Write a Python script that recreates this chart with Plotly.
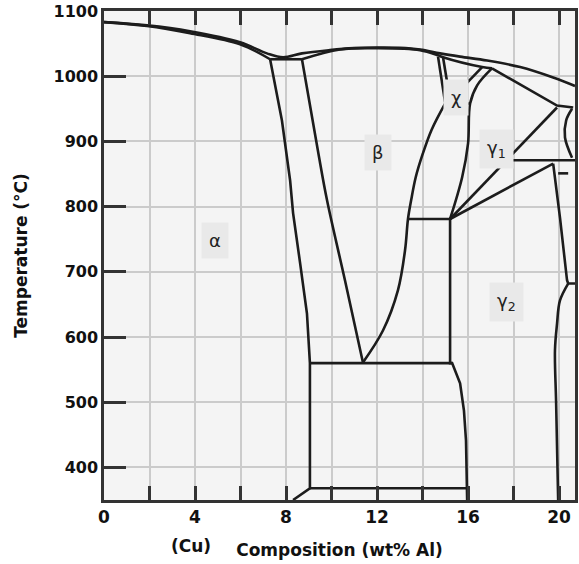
import plotly.graph_objects as go

# ---- phase boundaries (composition wt% Al, temperature °C) ----
liquidus_x = [0.0, 1.89, 3.78, 5.98, 7.16, 7.87, 8.70, 9.93, 11.0, 12.0, 13.0, 13.89, 14.77, 15.65, 16.84, 18.29, 19.74, 20.70]
liquidus_t = [1083, 1078, 1069, 1052, 1035, 1029, 1035, 1040, 1043, 1044, 1043.6, 1041, 1035, 1030, 1024, 1014, 998, 985]

alpha_solidus_x = [0.0, 1.89, 3.78, 5.98, 7.30]
alpha_solidus_t = [1083, 1077, 1066, 1049, 1026]

eutectic_x = [7.30, 8.70]
eutectic_t = [1026, 1026]

beta_solidus_x = [8.70, 10.37, 12.0, 13.89, 14.68, 14.90, 16.62, 17.05]
beta_solidus_t = [1026, 1041, 1043, 1040, 1032, 1029, 1014, 1012]

alpha_solvus_x = [7.30, 7.82, 8.18, 8.31, 8.62, 8.92, 9.05, 9.05, 8.31]
alpha_solvus_t = [1026, 932, 840, 790, 713, 636, 560, 368, 350]

beta_left_x = [8.70, 9.40, 9.80, 10.59, 11.38]
beta_left_t = [1026, 886, 810, 687, 561]

beta_right_x = [11.38, 12.26, 12.92, 13.23, 13.36, 13.5, 13.7, 14.0, 14.4, 14.99]
beta_right_t = [561, 610, 672, 733, 781, 810, 845, 880, 918, 958]

chi_left1_x = [14.68, 14.99]
chi_left1_t = [1030, 960]
chi_left2_x = [14.90, 15.21]
chi_left2_t = [1029, 963]
chi_diag_x = [15.21, 16.62]
chi_diag_t = [963, 1014]
chi_base_x = [14.99, 16.09]
chi_base_t = [958, 958]

eutectoid_x = [9.05, 15.30]
eutectoid_t = [560, 560]
low_line_x = [9.05, 15.96]
low_line_t = [368, 368]
line780_x = [13.36, 15.21]
line780_t = [781, 781]

gamma2_left_x = [15.21, 15.21, 15.30, 15.65, 15.82, 15.91, 15.96]
gamma2_left_t = [781, 560, 560, 529, 487, 441, 350]

gamma1_left_x = [15.21, 15.74, 16.0, 16.09, 16.40, 17.05]
gamma1_left_t = [781, 845, 897, 958, 986, 1012]

fan_long_x = [15.21, 19.91]
fan_long_t = [781, 952]
fan_short_x = [15.21, 19.74]
fan_short_t = [781, 866]

gamma1_solidus_x = [17.05, 19.91, 20.62]
gamma1_solidus_t = [1012, 955, 952]

line871_x = [17.63, 20.70]
line871_t = [871, 871]

right_upper_x = [19.74, 20.04, 20.35, 20.40, 20.70]
right_upper_t = [866, 783, 687, 682, 682]
right_lower_x = [20.40, 20.04, 19.91, 19.82, 19.87, 19.96]
right_lower_t = [682, 656, 620, 580, 500, 350]

dash_x = [19.96, 20.40]
dash_t = [851, 851]

arc_x = [20.57, 20.31, 20.26, 20.57]
arc_t = [950, 932, 906, 875]

# ---- phase labels ----
phase_names = ["α", "β", "χ", "γ<sub>1</sub>", "γ<sub>2</sub>"]
phase_x = [4.88, 12.04, 15.47, 17.23, 17.71]
phase_t = [748, 883, 968, 889, 653]

x_ticks = [0, 4, 8, 12, 16, 20]
y_ticks = [400, 500, 600, 700, 800, 900, 1000, 1100]

curves = [
    (liquidus_x, liquidus_t, "spline"),
    (alpha_solidus_x, alpha_solidus_t, "spline"),
    (eutectic_x, eutectic_t, "linear"),
    (beta_solidus_x, beta_solidus_t, "spline"),
    (alpha_solvus_x, alpha_solvus_t, "linear"),
    (beta_left_x, beta_left_t, "spline"),
    (beta_right_x, beta_right_t, "spline"),
    (chi_left1_x, chi_left1_t, "linear"),
    (chi_left2_x, chi_left2_t, "linear"),
    (chi_diag_x, chi_diag_t, "linear"),
    (chi_base_x, chi_base_t, "linear"),
    (eutectoid_x, eutectoid_t, "linear"),
    (low_line_x, low_line_t, "linear"),
    (line780_x, line780_t, "linear"),
    (gamma2_left_x, gamma2_left_t, "linear"),
    (gamma1_left_x, gamma1_left_t, "spline"),
    (fan_long_x, fan_long_t, "linear"),
    (fan_short_x, fan_short_t, "linear"),
    (gamma1_solidus_x, gamma1_solidus_t, "linear"),
    (line871_x, line871_t, "linear"),
    (right_upper_x, right_upper_t, "linear"),
    (right_lower_x, right_lower_t, "spline"),
    (dash_x, dash_t, "linear"),
    (arc_x, arc_t, "spline"),
]

fig = go.Figure()
for xs, ts, shape in curves:
    fig.add_trace(go.Scatter(
        x=xs, y=ts, mode="lines",
        line=dict(color="#1c1c1c", width=2.6, shape=shape),
        showlegend=False, hoverinfo="skip", cliponaxis=True,
    ))

for name, px_, pt in zip(phase_names, phase_x, phase_t):
    fig.add_annotation(
        x=px_, y=pt, text=name, showarrow=False,
        font=dict(family="DejaVu Sans", size=18, color="#222222"),
        bgcolor="#e9e9e9", borderpad=7,
    )

fig.add_annotation(
    x=107 / 579, y=-0.095, xref="paper", yref="paper",
    text="(Cu)", showarrow=False, xanchor="center", yanchor="middle",
    font=dict(family="DejaVu Sans", size=17, color="#111111", weight="bold"),
)

fig.update_layout(
    width=579, height=564,
    margin=dict(l=104, r=4, t=11, b=64),
    paper_bgcolor="white",
    plot_bgcolor="#f4f4f4",
    font=dict(family="DejaVu Sans", color="#111111"),
    xaxis=dict(
        range=[0, 20.7], tickvals=x_ticks,
        showgrid=True, gridcolor="#cbcbcb", gridwidth=2,
        showline=True, linecolor="#333333", linewidth=2.5, mirror="ticks",
        ticks="inside", ticklen=14, tickwidth=2.5, tickcolor="#333333",
        minor=dict(dtick=2, tick0=0, ticks="inside", ticklen=14, tickwidth=2.5,
                   tickcolor="#333333", showgrid=True, gridcolor="#cbcbcb", gridwidth=2),
        tickfont=dict(size=17, weight="bold", color="#111111"),
        zeroline=False, automargin=False,
        title=dict(text="Composition (wt% Al)", standoff=18,
                   font=dict(size=17, weight="bold", color="#111111")),
    ),
    yaxis=dict(
        range=[350, 1100], tickvals=y_ticks,
        showgrid=True, gridcolor="#cbcbcb", gridwidth=2,
        showline=True, linecolor="#333333", linewidth=2.5, mirror=True,
        ticks="inside", ticklen=22, tickwidth=2.5, tickcolor="#333333",
        tickfont=dict(size=16, weight="bold", color="#111111"),
        zeroline=False, automargin=False,
        title=dict(text="Temperature (°C)", standoff=22,
                   font=dict(size=17, weight="bold", color="#111111")),
    ),
)

fig.write_html(
    "out.html",
    config={"displayModeBar": False},
    post_script="document.body.style.margin='0';document.body.style.padding='0';",
)
